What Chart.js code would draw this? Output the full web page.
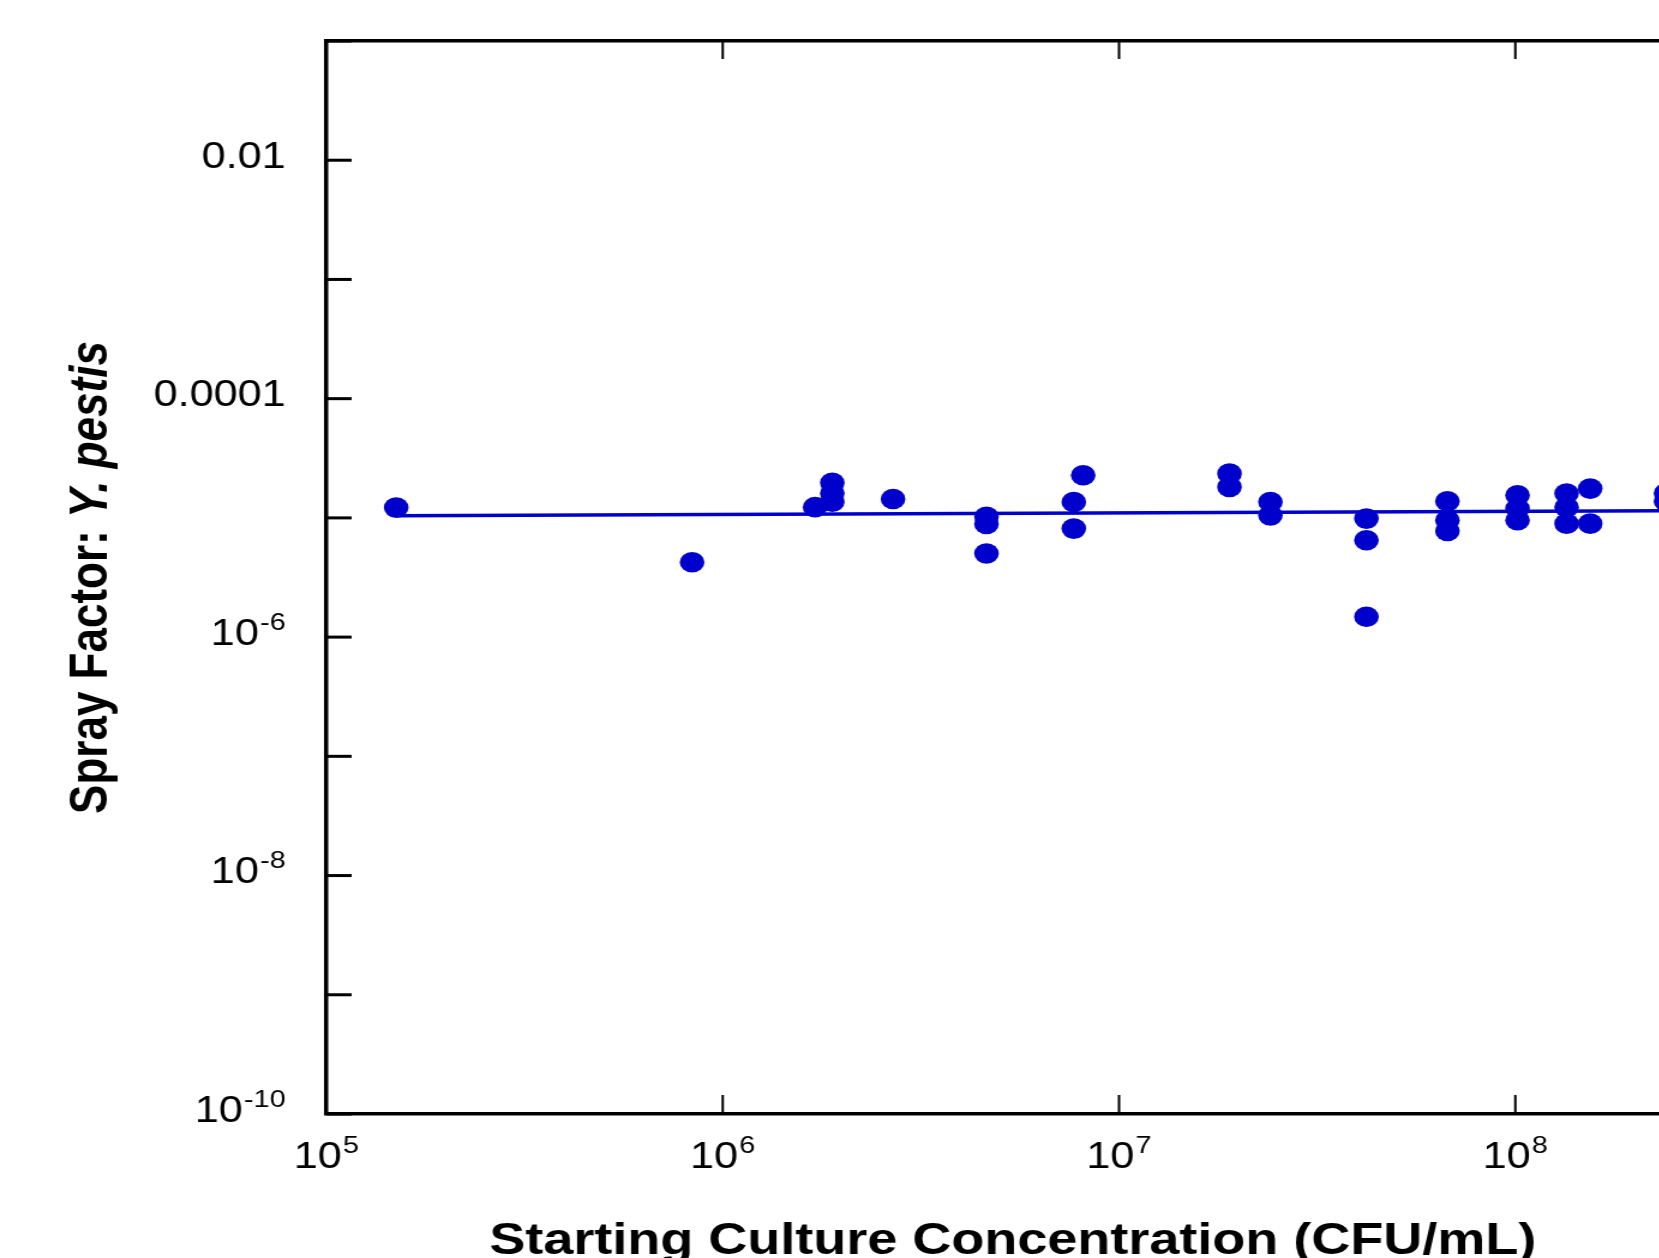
<!DOCTYPE html>
<html>
<head>
<meta charset="utf-8">
<title>Spray Factor: Y. pestis</title>
<script src="https://cdn.jsdelivr.net/npm/chart.js@4/dist/chart.umd.min.js"></script>
<style>
    html, body { margin: 0; padding: 0; overflow: hidden; background: #fff; }
    #wrap { width: 1700px; height: 1258px; transform: scaleX(1.2); transform-origin: 0 0; }
</style>
</head>
<body>
<div id="wrap"><canvas id="sprayChart" width="1700" height="1258"></canvas></div>
<script>
// starting culture concentration (CFU/mL) and spray factor, one entry per run
const concentration = [
    1.5e5, 8.37e5, 1.71e6, 1.89e6, 1.89e6, 1.89e6, 2.69e6,
    4.63e6, 4.63e6, 4.63e6, 7.69e6, 7.69e6, 8.12e6,
    1.9e7, 1.9e7, 2.41e7, 2.41e7,
    4.21e7, 4.21e7, 4.21e7, 6.74e7, 6.74e7, 6.74e7,
    1.013e8, 1.013e8, 1.013e8, 1.347e8, 1.347e8, 1.347e8,
    1.545e8, 1.545e8, 2.4e8, 2.4e8
];
const sprayFactor = [
    1.22e-5, 4.25e-6, 1.23e-5, 1.97e-5, 1.61e-5, 1.365e-5, 1.44e-5,
    1.02e-5, 8.9e-6, 5.03e-6, 1.36e-5, 8.13e-6, 2.28e-5,
    2.35e-5, 1.82e-5, 1.36e-5, 1.05e-5,
    9.86e-6, 6.49e-6, 1.48e-6, 1.38e-5, 9.55e-6, 7.76e-6,
    1.55e-5, 1.2e-5, 9.55e-6, 1.6e-5, 1.23e-5, 8.95e-6,
    1.76e-5, 8.95e-6, 1.61e-5, 1.38e-5
];

// fitted line end points
const fitConcentration = [1.5e5, 5e8];
const fitSprayFactor = [1.04e-5, 1.16e-5];

// tick labels, '^' marks the exponent
const xTickValues = [1e5, 1e6, 1e7, 1e8, 1e9];
const xTickLabels = ['10^5', '10^6', '10^7', '10^8', '10^9'];
const yTickValues = [1e-10, 1e-9, 1e-8, 1e-7, 1e-6, 1e-5, 1e-4, 1e-3, 1e-2, 1e-1];
const yTickLabels = ['10^-10', '', '10^-8', '', '10^-6', '', '0.0001', '', '0.01', ''];

const xTitle = 'Starting Culture Concentration (CFU/mL)';
const yTitle = 'Spray Factor: ';
const yTitleItalic = 'Y. pestis';

const blue = '#0000cc';
const fontFamily = "'Liberation Sans', Arial, Helvetica, sans-serif";
const labelFont = '36px ' + fontFamily;
const expFont = '24px ' + fontFamily;

const points = concentration.map(function (c, i) { return { x: c, y: sprayFactor[i] }; });
const fitPoints = fitConcentration.map(function (c, i) { return { x: c, y: fitSprayFactor[i] }; });

function setTicks(values) {
    return function (scale) {
        scale.ticks = values.map(function (v) { return { value: v }; });
    };
}

// draws "10" with a raised exponent, or a plain number
function drawTickLabel(ctx, text, x, y, align) {
    if (!text) return;
    const parts = text.split('^');
    ctx.font = labelFont;
    const wb = ctx.measureText(parts[0]).width;
    let we = 0;
    if (parts.length > 1) {
        ctx.font = expFont;
        we = ctx.measureText(parts[1]).width + 1;
    }
    const total = wb + we;
    const left = align === 'right' ? x - total : x - total / 2;
    ctx.textAlign = 'left';
    ctx.font = labelFont;
    ctx.fillText(parts[0], left, y);
    if (parts.length > 1) {
        ctx.font = expFont;
        ctx.fillText(parts[1], left + wb + 1, y - 15);
    }
}

// inward tick marks, tick labels and the two axis titles
const decorations = {
    id: 'decorations',
    afterDraw: function (chart) {
        const ctx = chart.ctx;
        const area = chart.chartArea;
        const xs = chart.scales.x;
        const ys = chart.scales.y;
        ctx.save();
        ctx.strokeStyle = '#000';
        ctx.fillStyle = '#000';
        ctx.textBaseline = 'alphabetic';

        ctx.lineWidth = 2;
        xTickValues.forEach(function (v, i) {
            const px = xs.getPixelForValue(v);
            if (px > area.left + 2) {
                ctx.beginPath();
                ctx.moveTo(px, area.bottom);
                ctx.lineTo(px, area.bottom - 19);
                ctx.moveTo(px, area.top);
                ctx.lineTo(px, area.top + 18);
                ctx.stroke();
            }
            drawTickLabel(ctx, xTickLabels[i], px, area.bottom + 54, 'center');
        });

        ctx.lineWidth = 3;
        yTickValues.forEach(function (v, i) {
            const py = ys.getPixelForValue(v);
            ctx.beginPath();
            ctx.moveTo(area.left, py);
            ctx.lineTo(area.left + 21, py);
            ctx.stroke();
            drawTickLabel(ctx, yTickLabels[i], area.left - 34, py + 7.5, 'right');
        });

        // y title, rotated, with the species in italics
        ctx.save();
        ctx.translate(89, (area.top + area.bottom) / 2);
        ctx.rotate(-Math.PI / 2);
        const normalFont = 'bold 44px ' + fontFamily;
        const italicFont = 'italic bold 44px ' + fontFamily;
        ctx.font = normalFont;
        const w1 = ctx.measureText(yTitle).width;
        ctx.font = italicFont;
        const w2 = ctx.measureText(yTitleItalic).width;
        const start = -(w1 + w2) / 2;
        ctx.textAlign = 'left';
        ctx.font = normalFont;
        ctx.fillText(yTitle, start, 0);
        ctx.font = italicFont;
        ctx.fillText(yTitleItalic, start + w1, 0);
        ctx.restore();

        // x title
        ctx.font = 'bold 45px ' + fontFamily;
        ctx.textAlign = 'center';
        ctx.fillText(xTitle, 844, 1254);

        ctx.restore();
    }
};

new Chart(document.getElementById('sprayChart'), {
    type: 'scatter',
    data: {
        datasets: [{
            label: 'Spray factor',
            data: points,
            backgroundColor: blue,
            borderColor: blue,
            borderWidth: 0,
            pointRadius: 10.3,
            pointHoverRadius: 10.3,
            order: 0
        }, {
            type: 'line',
            label: 'Fit',
            data: fitPoints,
            borderColor: blue,
            borderWidth: 3.5,
            pointRadius: 0,
            fill: false,
            order: 1
        }]
    },
    options: {
        responsive: false,
        animation: false,
        devicePixelRatio: 1,
        layout: {
            padding: { top: 41, right: 107, bottom: 0, left: 0 }
        },
        plugins: {
            legend: { display: false },
            tooltip: { enabled: false },
            title: { display: false }
        },
        scales: {
            x: {
                type: 'logarithmic',
                position: 'bottom',
                min: 1e5,
                max: 1e9,
                afterBuildTicks: setTicks(xTickValues),
                afterFit: function (scale) { scale.height = 144; },
                grid: { display: false, drawTicks: false },
                border: { display: true, color: '#000', width: 3.5 },
                ticks: { display: false }
            },
            xTop: {
                type: 'logarithmic',
                position: 'top',
                min: 1e5,
                max: 1e9,
                afterFit: function (scale) { scale.height = 0; },
                grid: { display: false, drawTicks: false },
                border: { display: true, color: '#000', width: 3.5 },
                ticks: { display: false }
            },
            y: {
                type: 'logarithmic',
                position: 'left',
                min: 1e-10,
                max: 1e-1,
                afterBuildTicks: setTicks(yTickValues),
                afterFit: function (scale) { scale.width = 272; },
                grid: { display: false, drawTicks: false },
                border: { display: true, color: '#000', width: 3.5 },
                ticks: { display: false }
            }
        }
    },
    plugins: [decorations]
});
</script>
</body>
</html>
